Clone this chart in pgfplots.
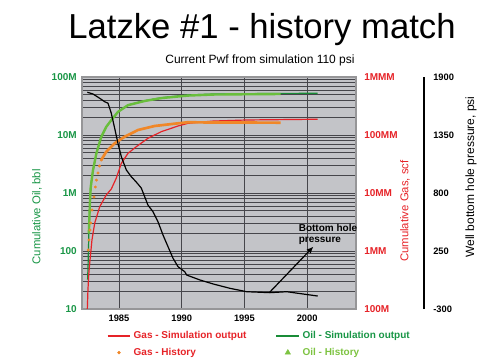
\documentclass[border=0pt]{standalone}
\usepackage{pgfplots}
\pgfplotsset{compat=1.18}
\usepackage{fontspec}
\setmainfont{Liberation Sans}
\usetikzlibrary{arrows.meta}
\definecolor{gasred}{RGB}{230,35,40}
\definecolor{gasorange}{RGB}{240,135,40}
\definecolor{oildark}{RGB}{25,140,55}
\definecolor{oillight}{RGB}{105,190,60}
\definecolor{oiltext}{RGB}{25,150,70}
\definecolor{oilhist}{RGB}{125,195,65}
\definecolor{plotbg}{RGB}{195,196,200}
\definecolor{gridc}{RGB}{70,70,75}
\definecolor{framec}{RGB}{150,150,152}
\pgfplotsset{base/.style={scale only axis, width=205.5pt, height=174pt,
  at={(61.5pt,36.75pt)}, anchor=south west, xmin=1982.056, xmax=2003.89,
  major tick length=0pt, minor tick length=0pt}}
\begin{document}
\begin{tikzpicture}
\useasboundingbox (0,0) rectangle (375pt,268.5pt);
\node[anchor=base, inner sep=0pt, font=\fontsize{26}{30}\selectfont] at (196.5pt,240pt) {Latzke \#1 - history match};
\node[anchor=base, inner sep=0pt, font=\fontsize{9}{10}\selectfont] at (195pt,220.9pt) {Current Pwf from simulation 110 psi};

% ---------- Oil axis ----------
\begin{axis}[base, ymode=log, ymin=10, ymax=100000,
  axis background/.style={fill=plotbg},
  xtick={1985,1990,1995,2000}, xticklabels={1985,1990,1995,2000},
  ytick={10,100,1000,10000,100000}, yticklabels={10,100,1M,10M,100M},
  minor ytick={20,30,40,50,60,70,80,90,200,300,400,500,600,700,800,900,2000,3000,4000,5000,6000,7000,8000,9000,20000,30000,40000,50000,60000,70000,80000,90000},
  xmajorgrids, ymajorgrids, yminorgrids,
  major grid style={gridc, line width=0.45pt},
  minor grid style={gridc, line width=0.45pt},
  axis line style={draw=framec, line width=1.3pt},
  yticklabel style={font=\bfseries\fontsize{7.5}{8}\selectfont, text=oiltext, anchor=east, inner sep=0pt, xshift=-3.75pt},
  xticklabel style={font=\bfseries\fontsize{7}{8}\selectfont, anchor=north, inner sep=0pt, yshift=-4pt},
  ylabel={Cumulative Oil, bbl},
  every axis y label/.style={at={(axis description cs:-0.164,0.397)}, rotate=90, anchor=center, font=\fontsize{8.5}{10}\selectfont, text=oiltext},
]
% Oil - simulation output
\addplot[oildark, line width=0.9pt] coordinates {
(1982.50,32) (1982.53,47) (1982.61,230) (1982.69,757) (1982.75,1285)
(1982.93,2490) (1983.20,4830) (1983.59,9350) (1983.99,13900) (1984.39,18150)
(1984.92,25200) (1985.72,32900) (1987.05,39000) (1988.37,43950) (1990.50,48950)
(1992.49,50900) (1995.20,51550) (1997.83,52150) (2000.84,52350)};
% Oil - history
\addplot[oillight, line width=1.8pt] coordinates {
(1982.60,200) (1982.69,700) (1982.75,1250) (1982.93,2450) (1983.20,4800)
(1983.59,9300) (1983.99,13800) (1984.39,18000) (1984.92,25000) (1985.72,32700)
(1987.05,38600) (1988.37,43200) (1990.50,47800) (1992.49,49800) (1995.20,50400)
(1997.89,50900)};
\end{axis}

% ---------- Gas axis ----------
\begin{axis}[base, ymode=log, ymin=1e5, ymax=1e9,
  axis x line=none, axis y line*=right, y axis line style={draw=none},
  ytick={1e5,1e6,1e7,1e8,1e9}, yticklabels={100M,1MM,10MM,100MM,1MMM},
  yticklabel style={font=\bfseries\fontsize{7.5}{8}\selectfont, text=gasred, anchor=west, inner sep=0pt, xshift=6pt},
  ylabel={Cumulative Gas, scf},
  every axis y label/.style={at={(axis description cs:1.179,0.422)}, rotate=90, anchor=center, font=\fontsize{8.5}{10}\selectfont, text=gasred},
]
% Gas - simulation output
\addplot[gasred, line width=0.9pt] coordinates {
(1982.48,1.0e5) (1982.53,2.13e5) (1982.59,3.85e5) (1982.67,6.2e5) (1982.85,1.55e6)
(1983.07,3.04e6) (1983.47,5.8e6) (1983.99,9.25e6) (1984.39,1.17e7) (1984.79,1.81e7)
(1985.19,3.25e7) (1985.72,4.83e7) (1986.38,6.28e7) (1987.31,8.77e7) (1988.37,1.14e8)
(1989.71,1.43e8) (1990.50,1.59e8) (1992.52,1.74e8) (1995.18,1.815e8) (1997.83,1.84e8)
(2000.84,1.87e8)};
% Gas - history (early sparse points)
\addplot[only marks, mark=*, mark size=0.9pt, gasorange] coordinates {
(1982.55,1.04e6) (1982.61,1.55e6) (1982.69,2.3e6) (1982.75,3.04e6) (1982.85,5.09e6)
(1983.01,8.53e6) (1983.12,1.27e7) (1983.21,1.67e7) (1983.33,2.21e7) (1983.45,2.92e7)
(1983.59,3.71e7)};
% Gas - history (dense points)
\addplot[gasorange, line width=2pt] coordinates {
(1983.59,3.71e7) (1983.99,5.15e7) (1984.66,7.19e7) (1985.46,9.35e7) (1986.52,1.22e8)
(1987.85,1.43e8) (1989.71,1.59e8) (1990.50,1.66e8) (1992.52,1.64e8) (1995.18,1.64e8)
(1997.89,1.63e8)};
\end{axis}

% ---------- Pressure axis ----------
\begin{axis}[base, ymin=-300, ymax=1900,
  axis x line=none, axis y line*=right,
  y axis line style={-, black, line width=1.1pt, xshift=51pt},
  ytick={-300,250,800,1350,1900}, yticklabels={-300,250,800,1350,1900},
  yticklabel style={font=\bfseries\fontsize{7}{8}\selectfont, anchor=west, inner sep=0pt, xshift=57.75pt},
  ylabel={Well bottom hole pressure, psi},
  every axis y label/.style={at={(axis description cs:1.42,0.569)}, rotate=90, anchor=center, font=\fontsize{9}{10}\selectfont},
  legend columns=2,
  legend cell align=left,
  legend style={at={(axis description cs:0.09,-0.084)}, anchor=north west, draw=none, fill=none,
    font=\bfseries\fontsize{7.5}{9}\selectfont, inner sep=0pt, row sep=1.5pt,
    /tikz/every even column/.append style={column sep=20pt}},
]
\addplot[black, line width=0.9pt, forget plot] coordinates {
(1982.48,1755) (1982.93,1739) (1983.47,1698) (1983.86,1666) (1984.13,1651)
(1984.39,1556) (1984.66,1414) (1984.92,1271) (1985.19,1144) (1985.59,1018)
(1985.98,955) (1986.38,904) (1986.78,847) (1987.05,765) (1987.31,686)
(1987.71,623) (1988.11,528) (1988.51,402) (1988.91,291) (1989.31,181)
(1989.71,101) (1990.24,54) (1990.40,22) (1991.46,-25) (1992.52,-63)
(1993.85,-104) (1995.18,-136) (1997.04,-145) (1998.37,-136) (1999.69,-158)
(2000.84,-177)};
\draw[-{Latex[length=5pt,width=4.5pt]}, line width=0.9pt] (axis cs:1996.98,-145) -- (axis cs:2000.49,291);
\node[anchor=north west, align=left, inner sep=0pt, font=\bfseries\fontsize{7.5}{8.5}\selectfont] at (axis cs:1999.31,506) {Bottom hole\\pressure};
\addlegendimage{gasred, line width=1pt}
\addlegendentry{\textcolor{gasred}{Gas - Simulation output}}
\addlegendimage{oildark, line width=1pt}
\addlegendentry{\textcolor{oiltext}{Oil - Simulation output}}
\addlegendimage{only marks, mark=*, mark size=1.1pt, gasorange}
\addlegendentry{\textcolor{gasred}{Gas - History}}
\addlegendimage{only marks, mark=triangle*, mark size=2.3pt, oilhist}
\addlegendentry{\textcolor{oilhist}{Oil - History}}
\end{axis}
\end{tikzpicture}
\end{document}
